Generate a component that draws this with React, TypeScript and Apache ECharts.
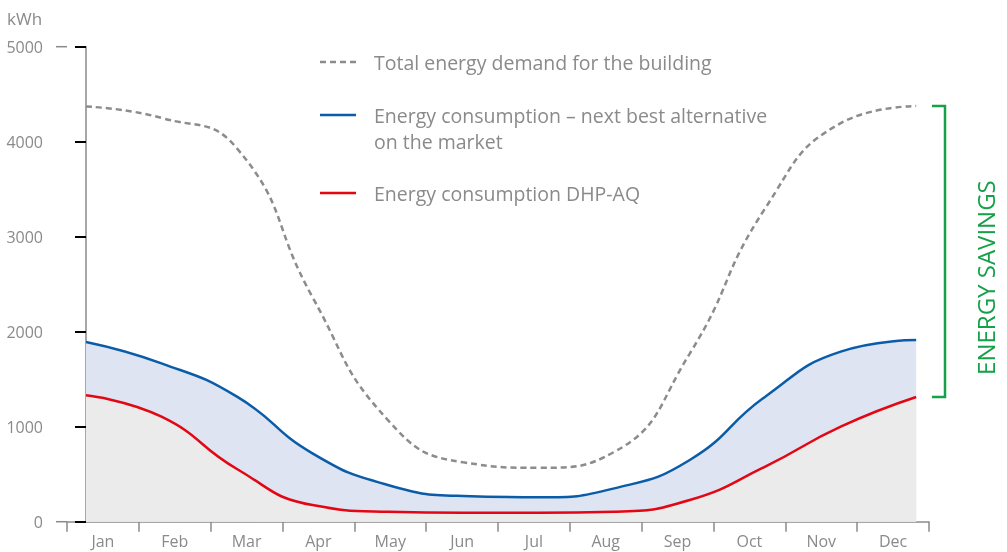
import React, { useEffect, useRef } from "react";
import * as echarts from "echarts";

const months = ["Jan", "Feb", "Mar", "Apr", "May", "Jun", "Jul", "Aug", "Sep", "Oct", "Nov", "Dec"];
const totalDemand = [4370, 4250, 3930, 2365, 1070, 625, 568, 735, 1770, 3300, 4195, 4375];
const nextBest = [1892, 1667, 1316, 720, 386, 270, 257, 351, 650, 1316, 1790, 1912];
const dhpAq = [1330, 1105, 555, 175, 105, 95, 95, 105, 228, 580, 1000, 1312];
const yTicks = [0, 1000, 2000, 3000, 4000, 5000];

const legendItems = [
  { text: "Total energy demand for the building", color: "#8c8c8c", dashed: true },
  { text: "Energy consumption \u2013 next best alternative\non the market", color: "#0a5ca8", dashed: false },
  { text: "Energy consumption DHP-AQ", color: "#e30613", dashed: false },
];

const FONT = "'Open Sans', 'Noto Sans', sans-serif";
const GRAY = "#8a8a8a";
const GREEN = "#15a049";

const toPairs = (arr: number[]) => arr.map((v, i) => [i, v]);

export default function App() {
  const ref = useRef<HTMLDivElement>(null);
  useEffect(() => {
    if (!ref.current) return;
    const chart = echarts.init(ref.current, null, { renderer: "svg" });
    const grid = { left: 67, right: 78, top: 46.7, bottom: 30.3 };
    const lineCommon = {
      type: "line",
      xAxisIndex: 1,
      smooth: 0.5,
      symbol: "none",
    };
    chart.setOption({
      animation: false,
      grid,
      xAxis: [
        {
          type: "category",
          data: months,
          boundaryGap: true,
          axisLine: { lineStyle: { color: GRAY, width: 1.5 } },
          axisTick: { show: true, interval: 0, length: 10, lineStyle: { color: GRAY, width: 1.5 } },
          axisLabel: { interval: 0, color: GRAY, fontSize: 16, fontFamily: FONT, margin: 11 },
          splitLine: { show: false },
        },
        { type: "value", min: -0.252, max: 11.17, show: false },
      ],
      yAxis: {
        type: "value",
        min: 0,
        max: 5000,
        interval: 1000,
        axisLine: { show: true, lineStyle: { color: GRAY, width: 1.5 } },
        axisTick: { show: true, length: 11, lineStyle: { color: "#000", width: 2 } },
        axisLabel: {
          color: GRAY,
          fontSize: 16,
          fontFamily: FONT,
          margin: 24,
          formatter: (v: number) => String(v),
        },
        splitLine: { show: false },
      },
      series: [
        {
          ...lineCommon,
          name: "Energy consumption – next best alternative on the market",
          data: toPairs(nextBest),
          lineStyle: { color: "#0a5ca8", width: 2.5 },
          areaStyle: { color: "#dfe4f2", opacity: 1 },
          z: 2,
        },
        {
          ...lineCommon,
          name: "Energy consumption DHP-AQ",
          data: toPairs(dhpAq),
          lineStyle: { color: "#e30613", width: 2.5 },
          areaStyle: { color: "#ebebeb", opacity: 1 },
          z: 3,
        },
        {
          ...lineCommon,
          name: "Total energy demand for the building",
          data: toPairs(totalDemand),
          lineStyle: { color: "#8c8c8c", width: 2.5, type: [6, 4] },
          z: 4,
        },
      ],
    });

    const yPx = (v: number) => chart.convertToPixel({ yAxisIndex: 0 }, v) as number;
    const w = chart.getWidth();
    const gridRight = w - grid.right;
    const axisX = grid.left;
    const last = months.length - 1;
    const bx = gridRight + 16;
    const bTop = yPx(totalDemand[last]);
    const bBot = yPx(dhpAq[last]);

    const legendY = [62, 115, 193];
    const graphic: any[] = [
      {
        type: "text",
        style: { text: "kWh", x: 7, y: 18, fill: GRAY, font: `17px ${FONT}`, verticalAlign: "middle" },
      },
      ...[yTicks[0], yTicks[yTicks.length - 1]].map((v) => ({
        type: "line",
        shape: { x1: axisX - 11, y1: yPx(v), x2: axisX, y2: yPx(v) },
        style: { stroke: GRAY, lineWidth: 1.5 },
        z: 100,
      })),
      {
        type: "polyline",
        shape: { points: [[gridRight + 3, bTop], [bx, bTop], [bx, bBot], [gridRight + 3, bBot]] },
        style: { stroke: GREEN, lineWidth: 2.5, fill: null },
      },
      {
        type: "text",
        x: bx + 40,
        y: (bTop + bBot) / 2 + 26,
        rotation: Math.PI / 2,
        style: {
          text: "ENERGY SAVINGS",
          fill: GREEN,
          font: `24px ${FONT}`,
          align: "center",
          verticalAlign: "middle",
        },
      },
    ];
    legendItems.forEach((it, i) => {
      graphic.push({
        type: "line",
        shape: { x1: 320, y1: legendY[i], x2: 356, y2: legendY[i] },
        style: { stroke: it.color, lineWidth: 2.5, lineDash: it.dashed ? [6, 4] : null },
      });
      graphic.push({
        type: "text",
        style: {
          text: it.text,
          x: 374,
          y: legendY[i] - 13,
          fill: GRAY,
          font: `19.5px ${FONT}`,
          lineHeight: 26,
          verticalAlign: "top",
        },
      });
    });
    chart.setOption({ graphic });
    return () => chart.dispose();
  }, []);
  return <div ref={ref} style={{ position: "fixed", left: 0, top: 0, width: 1007, height: 552 }} />;
}
